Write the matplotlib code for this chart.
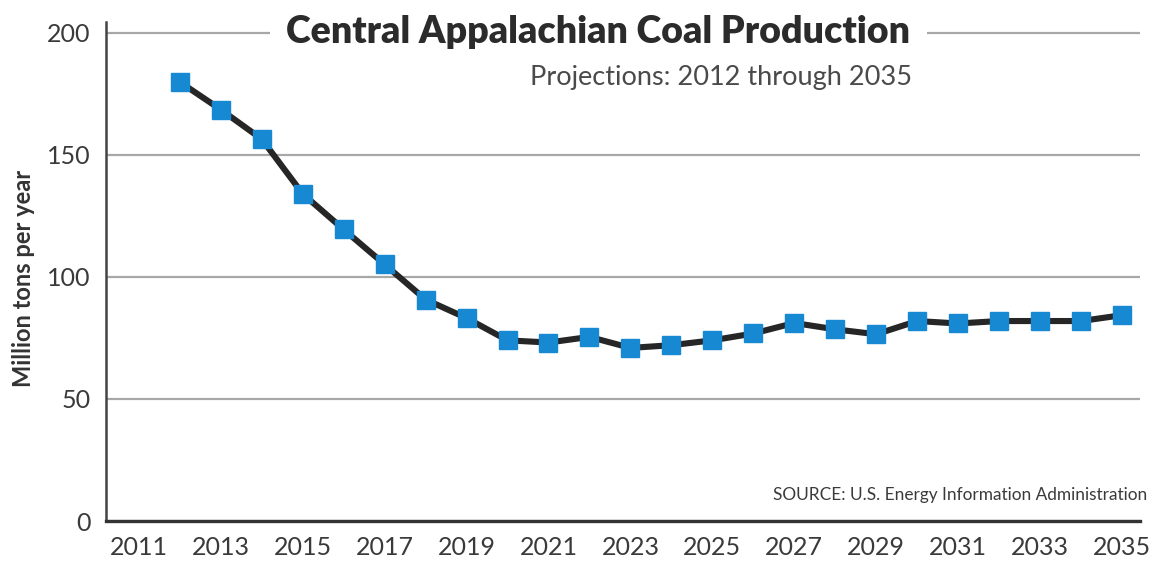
import matplotlib
matplotlib.use("Agg")
import matplotlib.pyplot as plt

years = list(range(2012, 2036))
production = [179.8, 168.5, 156.4, 134.0, 119.4, 105.1, 90.7, 83.1, 74.0, 73.1,
              75.4, 70.9, 72.0, 74.0, 76.8, 81.1, 78.5, 76.5, 81.9, 80.9,
              81.9, 81.9, 81.9, 84.3]
x_ticks = list(range(2011, 2036, 2))
y_ticks = [0, 50, 100, 150, 200]

title = "Central Appalachian Coal Production"
subtitle = "Projections: 2012 through 2035"
source = "SOURCE: U.S. Energy Information Administration"
ylabel = "Million tons per year"

plt.rcParams["font.family"] = ["Lato", "DejaVu Sans"]

fig = plt.figure(figsize=(11.55, 5.61), dpi=100)
ax = fig.add_axes([0.0915, 0.0713, 0.8955, 0.89])

ax.plot(years, production, color="#262626", lw=4.4, marker="s", ms=12.5,
        mfc="#1689d2", mec="#1689d2", zorder=3, solid_joinstyle="round")

ax.set_xlim(2010.19, 2035.44)
ax.set_ylim(0, 204.5)
ax.set_xticks(x_ticks)
ax.set_yticks(y_ticks)
ax.tick_params(length=0, labelsize=18, labelcolor="#3a3a3a")
ax.tick_params(axis="x", pad=11)
ax.tick_params(axis="y", pad=11)
ax.yaxis.grid(True, color="#a8a8a8", lw=1.6)
ax.set_axisbelow(True)

for s in ["top", "right"]:
    ax.spines[s].set_visible(False)
ax.spines["left"].set_color("#444444")
ax.spines["left"].set_linewidth(1.8)
ax.spines["bottom"].set_color("#333333")
ax.spines["bottom"].set_linewidth(2.4)

ax.set_ylabel(ylabel, fontsize=17, fontweight="bold", color="#333333")
ax.yaxis.set_label_coords(-0.068, 0.485)

fig.text(0.518, 0.943, title, ha="center", va="center", fontsize=27,
         fontweight="heavy", color="#2b2b2b",
         bbox=dict(facecolor="white", edgecolor="none", pad=12))
fig.text(0.79, 0.862, subtitle, ha="right", va="center", fontsize=19.5, color="#4a4a4a")
fig.text(0.993, 0.118, source, ha="right", va="center", fontsize=12.4, color="#3a3a3a")

fig.savefig("out.png", dpi=100)
